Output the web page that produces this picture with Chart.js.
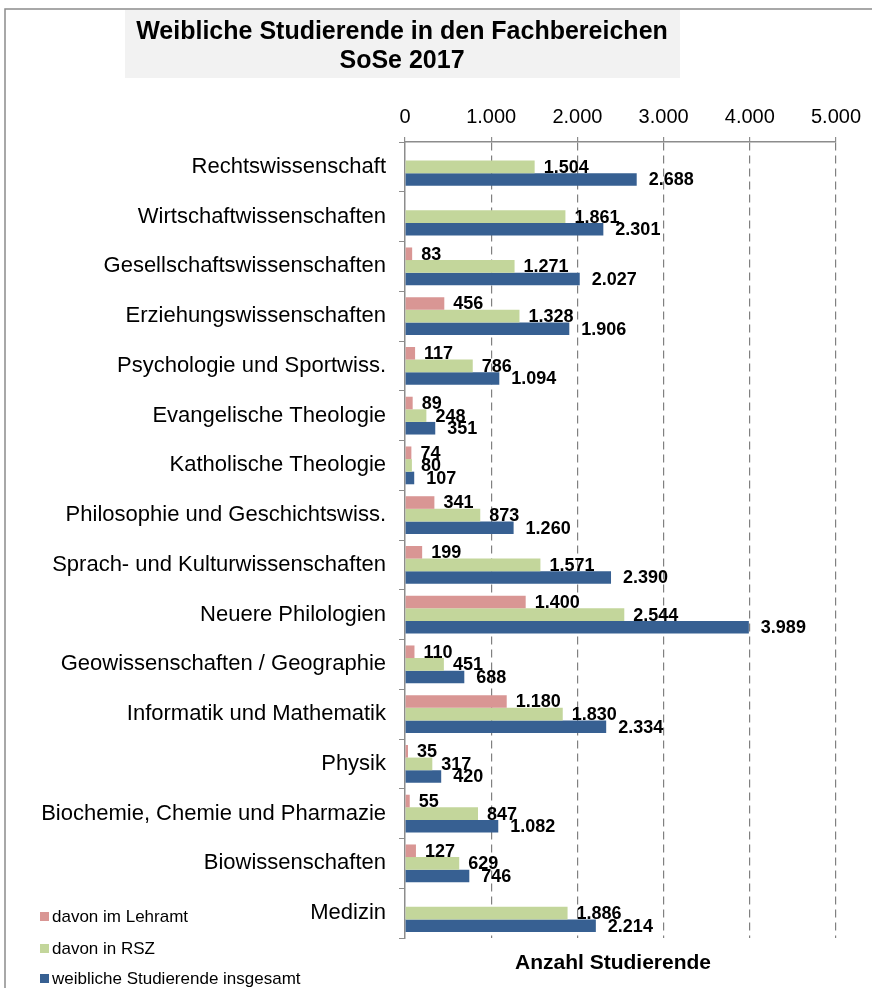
<!DOCTYPE html>
<html lang="de">
<head>
<meta charset="utf-8">
<title>Weibliche Studierende in den Fachbereichen SoSe 2017</title>
<script src="https://cdn.jsdelivr.net/npm/chart.js@4.4.0/dist/chart.umd.min.js"></script>
<style>
  html, body { margin: 0; padding: 0; background: #fff; }
  #wrap { width: 872px; height: 988px; }
</style>
</head>
<body>
<div id="wrap"><canvas id="chart" width="872" height="988"></canvas></div>
<script>
// Daten
const fachbereiche = [
    'Rechtswissenschaft',
    'Wirtschaftwissenschaften',
    'Gesellschaftswissenschaften',
    'Erziehungswissenschaften',
    'Psychologie und Sportwiss.',
    'Evangelische Theologie',
    'Katholische Theologie',
    'Philosophie und Geschichtswiss.',
    'Sprach- und Kulturwissenschaften',
    'Neuere Philologien',
    'Geowissenschaften / Geographie',
    'Informatik und Mathematik',
    'Physik',
    'Biochemie, Chemie und Pharmazie',
    'Biowissenschaften',
    'Medizin'
];
const lehramt   = [null, null, 83, 456, 117, 89, 74, 341, 199, 1400, 110, 1180, 35, 55, 127, null];
const rsz       = [1504, 1861, 1271, 1328, 786, 248, 80, 873, 1571, 2544, 451, 1830, 317, 847, 629, 1886];
const insgesamt = [2688, 2301, 2027, 1906, 1094, 351, 107, 1260, 2390, 3989, 688, 2334, 420, 1082, 746, 2214];
const serienNamen = ['davon im Lehramt', 'davon in RSZ', 'weibliche Studierende insgesamt'];
const titelZeilen = ['Weibliche Studierende in den Fachbereichen', 'SoSe 2017'];
const achsenTitel = 'Anzahl Studierende';
const xMax = 5000;
const xSchritt = 1000;

const farben = ['#D99694', '#C3D69B', '#376092'];
const schrift = "'Liberation Sans', Arial, sans-serif";
Chart.defaults.font.family = schrift;
Chart.defaults.color = '#000';

// 1.234 statt 1,234
function fmt(v) {
    return String(v).replace(/\B(?=(\d{3})+(?!\d))/g, '.');
}

// Rahmen, Titel, Legende, Achsentitel und Werte selbst zeichnen
const extras = {
    id: 'extras',
    beforeDraw(chart) {
        const ctx = chart.ctx;
        ctx.save();
        ctx.fillStyle = '#fff';
        ctx.fillRect(0, 0, chart.width, chart.height);
        ctx.strokeStyle = '#8c8c8c';
        ctx.lineWidth = 1.5;
        ctx.beginPath();
        ctx.moveTo(5, chart.height);
        ctx.lineTo(5, 9);
        ctx.lineTo(chart.width, 9);
        ctx.stroke();
        ctx.fillStyle = '#f2f2f2';
        ctx.fillRect(125, 10, 555, 68);
        ctx.restore();
    },
    afterDatasetsDraw(chart) {
        const ctx = chart.ctx;
        ctx.save();
        ctx.font = 'bold 18px ' + schrift;
        ctx.fillStyle = '#000';
        ctx.textAlign = 'left';
        ctx.textBaseline = 'middle';
        const abstand = [9, 9, 12];
        chart.data.datasets.forEach((ds, i) => {
            const meta = chart.getDatasetMeta(i);
            meta.data.forEach((bar, j) => {
                const v = ds.data[j];
                if (v === null) return;
                ctx.fillText(fmt(v), bar.x + abstand[i], bar.y + 1);
            });
        });
        ctx.restore();
    },
    afterDraw(chart) {
        const ctx = chart.ctx;
        ctx.save();
        ctx.fillStyle = '#000';
        ctx.textAlign = 'center';
        ctx.textBaseline = 'middle';
        ctx.font = 'bold 25px ' + schrift;
        ctx.fillText(titelZeilen[0], 402, 32);
        ctx.fillText(titelZeilen[1], 402, 61);

        ctx.font = 'bold 21px ' + schrift;
        ctx.fillText(achsenTitel, 613, 963);

        // Legende unten links
        ctx.textAlign = 'left';
        ctx.font = '17px ' + schrift;
        const ly = [917, 949, 979];
        chart.data.datasets.forEach((ds, i) => {
            ctx.fillStyle = ds.backgroundColor;
            ctx.fillRect(40, ly[i] - 5, 9, 9);
            ctx.fillStyle = '#000';
            ctx.fillText(ds.label, 52, ly[i]);
        });
        ctx.restore();
    }
};

new Chart(document.getElementById('chart'), {
    type: 'bar',
    data: {
        labels: fachbereiche,
        datasets: [
            { label: serienNamen[0], data: lehramt, backgroundColor: farben[0] },
            { label: serienNamen[1], data: rsz, backgroundColor: farben[1] },
            { label: serienNamen[2], data: insgesamt, backgroundColor: farben[2] }
        ]
    },
    options: {
        indexAxis: 'y',
        responsive: false,
        animation: false,
        categoryPercentage: 0.76,
        barPercentage: 1.0,
        layout: { padding: { top: 0, left: 0, right: 36, bottom: 50 } },
        plugins: {
            legend: { display: false },
            title: { display: false },
            tooltip: { enabled: false }
        },
        scales: {
            x: {
                position: 'top',
                min: 0,
                max: xMax,
                ticks: {
                    stepSize: xSchritt,
                    font: { size: 20 },
                    color: '#000',
                    padding: 8,
                    callback: v => fmt(v)
                },
                grid: {
                    color: ctx => ctx.tick && ctx.tick.value === 0 ? 'rgba(0,0,0,0)' : '#808080',
                    tickColor: '#8c8c8c',
                    tickLength: 5,
                    lineWidth: 1.2,
                    borderDash: [8, 5]
                },
                border: { color: '#8c8c8c', width: 1.5, dash: [8, 5] },
                afterFit: s => { s.height = 142; }
            },
            y: {
                ticks: {
                    font: { size: 22 },
                    color: '#000',
                    padding: 13,
                    autoSkip: false
                },
                grid: {
                    drawOnChartArea: false,
                    color: '#8c8c8c',
                    tickLength: 6,
                    offset: true
                },
                border: { color: '#8c8c8c', width: 1.5 },
                afterFit: s => { s.width = 405; }
            }
        }
    },
    plugins: [extras]
});
</script>
</body>
</html>
